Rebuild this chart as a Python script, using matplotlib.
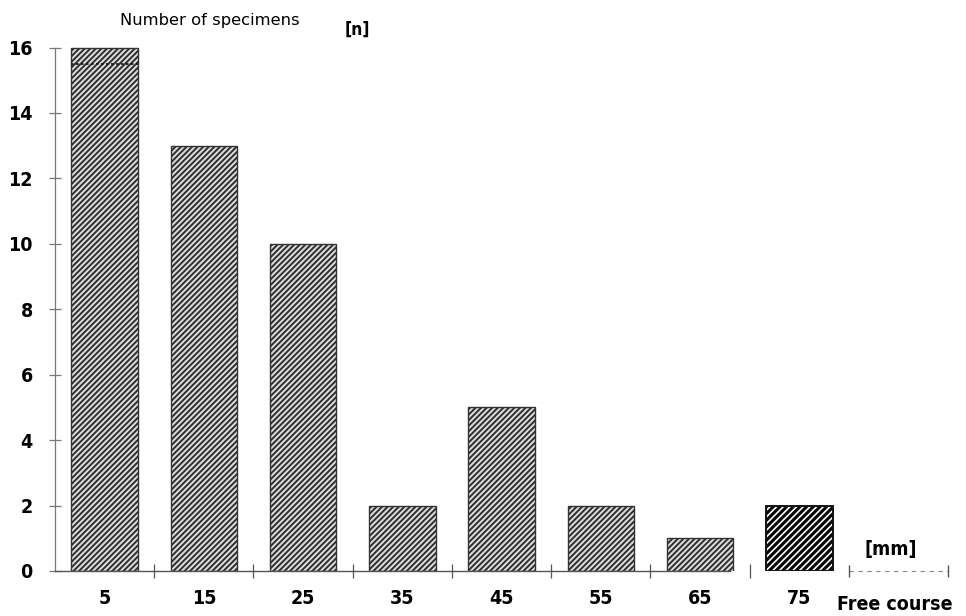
import numpy as np
import matplotlib
matplotlib.use("Agg")
import matplotlib.pyplot as plt

# free course classes [mm] and number of specimens
course_mm = [5, 15, 25, 35, 45, 55, 65, 75]
specimens = [16, 13, 10, 2, 5, 2, 1, 2]
x_labels = ["5", "15", "25", "35", "45", "55", "65", "75"]
y_ticks = [0, 2, 4, 6, 8, 10, 12, 14, 16]
class_edges = [10, 20, 30, 40, 50, 60, 70]

bold_font = dict(family="DejaVu Sans", fontweight="bold", fontstretch="condensed")
plt.rcParams["hatch.linewidth"] = 1.4

fig = plt.figure(figsize=(9.66, 6.16), dpi=100)
ax = fig.add_axes([55 / 966, 45 / 616, 910 / 966, 530 / 616])

bars = ax.bar(course_mm[:-1], specimens[:-1], width=6.7, color="#dddddd",
              edgecolor="#333333", linewidth=1.0, hatch="//////")
for b in bars:
    b._hatch_color = (0.18, 0.18, 0.18, 1.0)
# last class drawn with a bolder hatch, as in the original
with plt.rc_context({"hatch.linewidth": 2.2}):
    last = ax.bar(course_mm[-1:], specimens[-1:], width=6.7, color="white",
                  edgecolor="#111111", linewidth=1.4, hatch="/////")
for b in last:
    b._hatch_color = (0.02, 0.02, 0.02, 1.0)

# dotted line near top of first bar
b0 = bars[0]
ax.hlines(specimens[0] - 0.5, b0.get_x(), b0.get_x() + b0.get_width(),
          colors="#111111", linestyles=(0, (1.5, 1.5)), linewidth=1.2)

ax.set_xlim(0, 91.7)
ax.set_ylim(0, 16.2)

for s in ["top", "right"]:
    ax.spines[s].set_visible(False)
ax.spines["left"].set_bounds(0, 16)
ax.spines["left"].set_color("#777777")
ax.spines["left"].set_linewidth(0.9)
ax.spines["bottom"].set_bounds(0, 68)
ax.spines["bottom"].set_color("#555555")
ax.spines["bottom"].set_linewidth(1.0)

ax.set_yticks(y_ticks)
ax.set_yticklabels([str(v) for v in y_ticks], fontsize=14, **bold_font)
ax.tick_params(axis="y", direction="inout", length=8, width=0.9,
               color="#777777", pad=12)

ax.set_xticks(course_mm)
ax.set_xticklabels(x_labels, fontsize=14, **bold_font)
ax.tick_params(axis="x", which="major", length=0, pad=13)
ax.set_xticks(class_edges, minor=True)
ax.tick_params(axis="x", which="minor", direction="inout", length=10,
               width=0.9, color="#555555")

# unit segment [mm]
ax.plot([80, 90], [0, 0], color="#888888", linestyle=(0, (4, 4)),
        linewidth=0.8, clip_on=False)
ax.plot([80, 90], [0, 0], linestyle="none", marker="|", markersize=8,
        color="#555555", clip_on=False)

fig.text(120 / 966, 1 - 21 / 616, "Number of specimens", fontsize=11.8,
         va="center", ha="left")
fig.text(345 / 966, 1 - 30 / 616, "[n]", fontsize=12.5, va="center",
         ha="left", **bold_font)
fig.text(864 / 966, 1 - 550 / 616, "[mm]", fontsize=14, va="center",
         ha="left", **bold_font)
fig.text(837 / 966, 1 - 604 / 616, "Free course", fontsize=14,
         va="center", ha="left", **bold_font)

fig.savefig("out.png", dpi=100, facecolor="white")
